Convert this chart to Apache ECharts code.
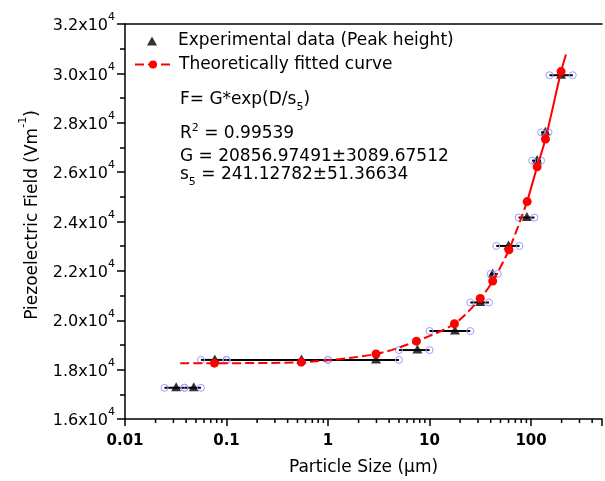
<!DOCTYPE html>
<html><head><meta charset="utf-8">
<script src="https://cdn.jsdelivr.net/npm/echarts@6/dist/echarts.min.js"></script>
<style>html,body{margin:0;padding:0;background:#fff}#c{width:605px;height:481px}</style>
</head><body><div id="c"></div>
<script>
const FONT = 'DejaVu Sans';

// Experimental data (peak height): particle size (µm), field (V/m), size range low / high
const expSize  = [0.0319, 0.0476, 0.0767, 0.548, 2.97, 7.6, 17.8, 31.6, 41.9, 60, 91, 114.8, 138.7, 197.6];
const expField = [17265, 17265, 18394, 18394, 18394, 18793, 19563, 20720, 21877, 23010, 24160, 26466, 27611, 29925];
const expLow   = [0.0245, 0.0385, 0.056, 0.1, 1, 5, 10, 25.2, 40, 45.4, 75.4, 102.5, 125.6, 152];
const expHigh  = [0.0385, 0.056, 0.1, 1, 5, 10, 25.2, 38.5, 47, 77, 108, 125.6, 148.6, 257.6];

// Theoretically fitted curve: dashed part and solid part (dot = fitted point marker)
const fitSizeA  = [0.035, 0.076, 0.545, 2.97, 7.43, 17.6, 31.6, 41.9, 60.5, 91.6];
const fitFieldA = [18262, 18262, 18302, 18633, 19152, 19858, 20880, 21586, 22851, 24806];
const fitDotA   = [false, true, true, true, true, true, true, true, true, true];
const fitSizeB  = [91.6, 114.8, 138.7, 197.6, 221];
const fitFieldB = [24806, 26214, 27344, 30073, 30763];
const fitDotB   = [false, true, true, true, false];

// Axis ticks
const xMin = 0.01, xMax = 500;
const yMin = 16000, yMax = 32000, yStep = 2000;
const xMinorTicks = [];
[0.01, 0.1, 1, 10, 100].forEach(d => { for (let m = 2; m <= 9; m++) { const v = +(d * m).toPrecision(3); if (v < xMax) xMinorTicks.push(v); } });

const fitData = (xs, ys, dots) => xs.map((x, i) => dots[i] ? [x, ys[i]] : {value: [x, ys[i]], symbol: 'none'});

const chart = echarts.init(document.getElementById('c'), null, {renderer: 'canvas'});
const NAME_EXP = 'Experimental data (Peak height)';
const NAME_FIT = 'Theoretically fitted curve';

chart.setOption({
  animation: false,
  backgroundColor: '#fff',
  grid: {left: 125, right: 2, top: 24, bottom: 56},
  legend: [{
    data: [{name: NAME_EXP, icon: 'triangle'}],
    orient: 'vertical', left: 142, top: 26, padding: 5,
    itemWidth: 10, itemHeight: 9,
    textStyle: {fontFamily: FONT, fontSize: 17, color: '#000', lineHeight: 20, padding: [0, 0, 0, 16]},
    selectedMode: false
  }, {
    data: [NAME_FIT],
    orient: 'vertical', left: 129, top: 49.5, padding: 5,
    itemWidth: 36, itemHeight: 10,
    textStyle: {fontFamily: FONT, fontSize: 17, color: '#000', lineHeight: 20, padding: [0, 0, 0, 3]},
    selectedMode: false
  }],
  xAxis: [{
    type: 'log', logBase: 10, min: xMin, max: xMax,
    axisLine: {lineStyle: {color: '#000', width: 1.5}},
    axisTick: {show: true, length: 7, lineStyle: {color: '#000', width: 1.5}},
    splitLine: {show: false},
    axisLabel: {
      margin: 15, fontFamily: FONT, fontSize: 15, fontWeight: 'bold', color: '#000',
      formatter: v => { const l = Math.log10(v); return Math.abs(l - Math.round(l)) < 1e-6 ? String(+v.toPrecision(3)) : ''; }
    },
    name: 'Particle Size (\u03bcm)', nameLocation: 'middle', nameGap: 40,
    nameTextStyle: {fontFamily: FONT, fontSize: 17, color: '#000'}
  }, {
    type: 'log', logBase: 10, min: xMin, max: xMax, position: 'top',
    axisLine: {lineStyle: {color: '#000', width: 1.5}},
    axisTick: {show: false}, axisLabel: {show: false}, splitLine: {show: false}
  }],
  yAxis: {
    type: 'value', min: yMin, max: yMax, interval: yStep,
    axisLine: {show: true, lineStyle: {color: '#000', width: 1.5}},
    axisTick: {show: true, length: 8, lineStyle: {color: '#000', width: 1.5}},
    minorTick: {show: true, splitNumber: 2, length: 5, lineStyle: {color: '#000', width: 1.5}},
    splitLine: {show: false},
    axisLabel: {
      margin: 10, padding: [4, 0, 0, 0],
      formatter: v => '{m|' + (v / 10000).toFixed(1) + 'x10}{s|4}',
      rich: {
        m: {fontFamily: FONT, fontSize: 16, color: '#000', lineHeight: 28, verticalAlign: 'middle'},
        s: {fontFamily: FONT, fontSize: 11, color: '#000', lineHeight: 28, verticalAlign: 'top'}
      }
    }
  },
  graphic: [
    {type: 'text', x: 32.6, y: 215, rotation: Math.PI / 2, style: {
      text: '{m|Piezoelectric Field (Vm}{s|-1}{m|)}', align: 'center', verticalAlign: 'middle',
      rich: {m: {fontFamily: FONT, fontSize: 17, fill: '#000', lineHeight: 30, verticalAlign: 'middle'},
             s: {fontFamily: FONT, fontSize: 11, fill: '#000', lineHeight: 30, verticalAlign: 'top'}}}},
    {type: 'text', x: 180, y: 100, style: {
      text: '{m|F= G*exp(D/s}{b|5}{m|)}', align: 'left', verticalAlign: 'middle',
      rich: {m: {fontFamily: FONT, fontSize: 17, fill: '#000', lineHeight: 26, verticalAlign: 'middle'},
             b: {fontFamily: FONT, fontSize: 11, fill: '#000', lineHeight: 26, verticalAlign: 'bottom'}}}},
    {type: 'text', x: 180, y: 133.5, style: {
      text: '{m|R}{s|2}{m| = 0.99539}', align: 'left', verticalAlign: 'middle',
      rich: {m: {fontFamily: FONT, fontSize: 17, fill: '#000', lineHeight: 22, verticalAlign: 'middle'},
             s: {fontFamily: FONT, fontSize: 11, fill: '#000', lineHeight: 22, verticalAlign: 'top'}}}},
    {type: 'text', x: 180, y: 157, style: {
      text: 'G = 20856.97491\u00b13089.67512', align: 'left', verticalAlign: 'middle',
      fontFamily: FONT, fontSize: 17, fill: '#000'}},
    {type: 'text', x: 180, y: 175, style: {
      text: '{m|s}{b|5}{m| = 241.12782\u00b151.36634}', align: 'left', verticalAlign: 'middle',
      rich: {m: {fontFamily: FONT, fontSize: 17, fill: '#000', lineHeight: 26, verticalAlign: 'middle'},
             b: {fontFamily: FONT, fontSize: 11, fill: '#000', lineHeight: 26, verticalAlign: 'bottom'}}}}
  ],
  series: [
    {
      name: NAME_EXP, type: 'scatter', z: 2,
      symbol: 'triangle', symbolSize: [10, 9], symbolOffset: [0, -1],
      itemStyle: {color: '#000'},
      data: expSize.map((x, i) => [x, expField[i]])
    },
    {
      name: 'errorbars', type: 'custom', z: 3,
      data: expSize.map((x, i) => [x, expField[i], expLow[i], expHigh[i]]),
      encode: {x: 0, y: 1},
      renderItem: (params, api) => {
        const y = api.value(1);
        const p0 = api.coord([api.value(2), y]);
        const p1 = api.coord([api.value(3), y]);
        const r = 3.5;
        return {type: 'group', children: [
          {type: 'line', z2: 1, shape: {x1: p0[0], y1: p0[1], x2: p1[0], y2: p1[1]}, style: {stroke: '#000', lineWidth: 2}},
          {type: 'circle', z2: 2, shape: {cx: p0[0], cy: p0[1], r: r}, style: {fill: 'none', stroke: '#9d9dff', lineWidth: 1}},
          {type: 'circle', z2: 2, shape: {cx: p1[0], cy: p1[1], r: r}, style: {fill: 'none', stroke: '#9d9dff', lineWidth: 1}}
        ]};
      }
    },
    {
      name: 'minorTicksX', type: 'custom', z: 1, silent: true,
      data: xMinorTicks.map(v => [v, yMin]),
      encode: {x: 0, y: 1},
      renderItem: (params, api) => {
        const p = api.coord([api.value(0), api.value(1)]);
        return {type: 'line', shape: {x1: p[0], y1: p[1], x2: p[0], y2: p[1] + 4}, style: {stroke: '#000', lineWidth: 1.5}};
      }
    },
    {
      name: NAME_FIT, type: 'line', z: 4, smooth: 0.3,
      symbol: 'circle', symbolSize: 9, showAllSymbol: true,
      itemStyle: {color: '#ff0000'},
      lineStyle: {color: '#ff0000', width: 2, type: [9, 4]},
      data: fitData(fitSizeA, fitFieldA, fitDotA)
    },
    {
      name: 'fit-solid', type: 'line', z: 4, smooth: 0.3,
      symbol: 'circle', symbolSize: 9, showAllSymbol: true,
      itemStyle: {color: '#ff0000'},
      lineStyle: {color: '#ff0000', width: 2, type: 'solid'},
      data: fitData(fitSizeB, fitFieldB, fitDotB)
    }
  ]
});
</script>
</body></html>
